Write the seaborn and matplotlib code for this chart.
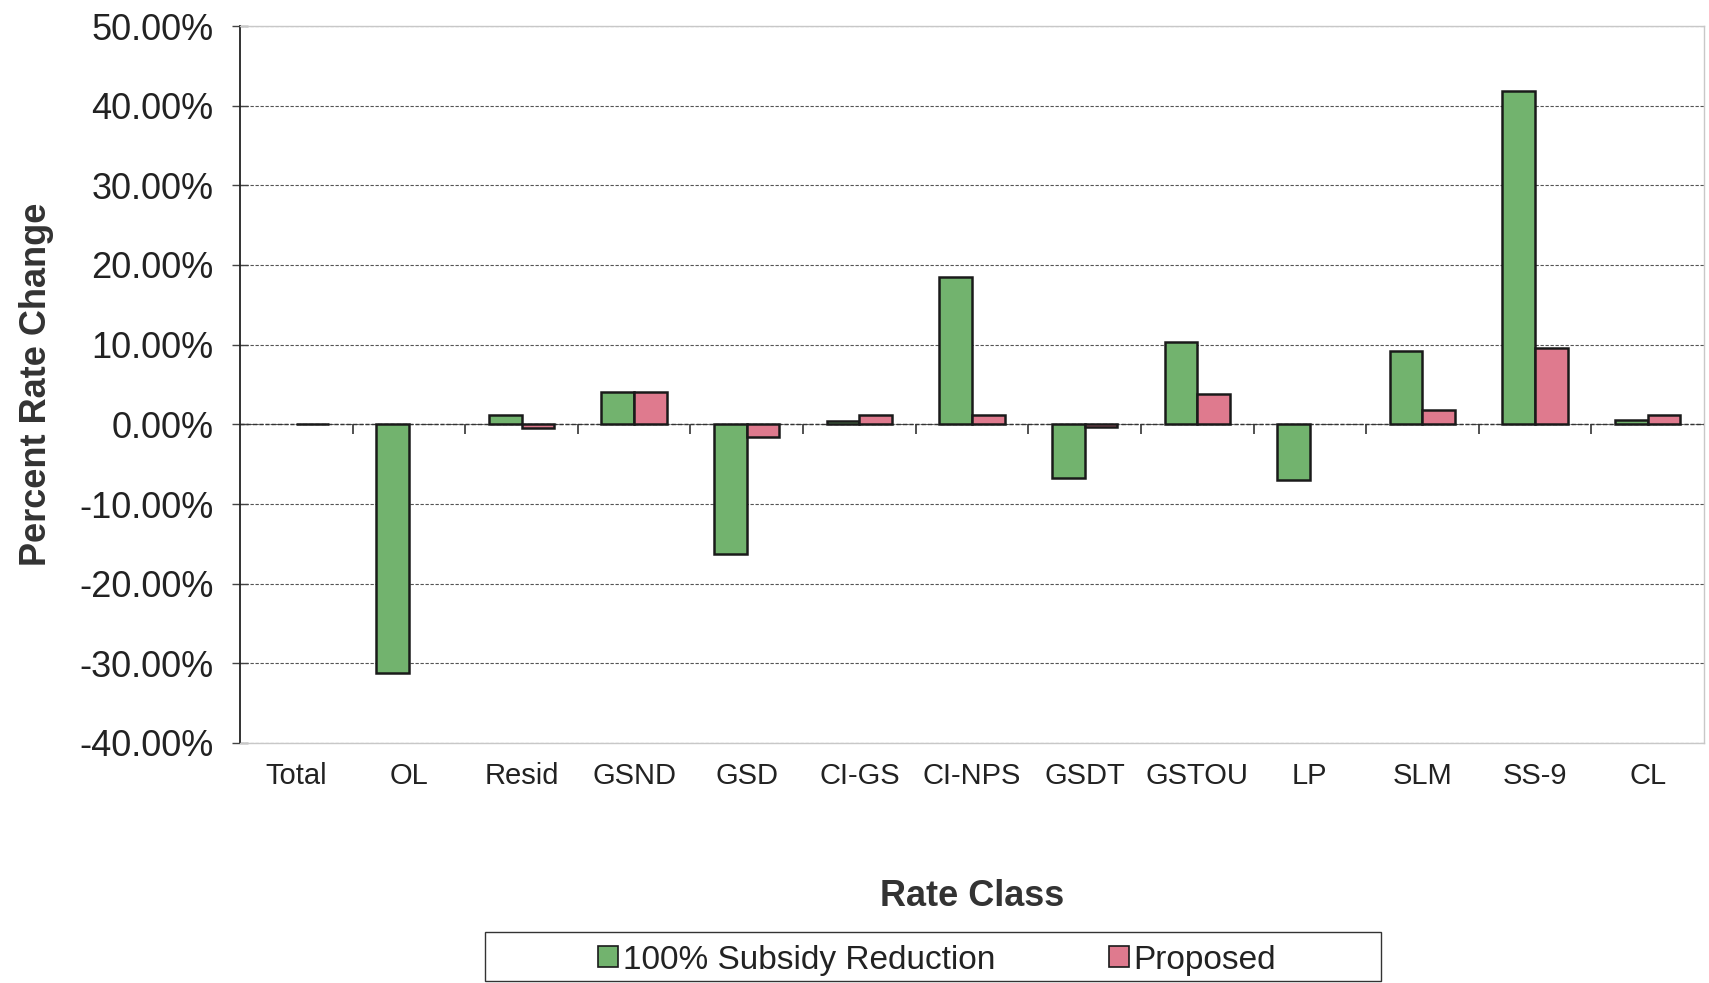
import matplotlib
matplotlib.use("Agg")
import matplotlib.pyplot as plt
import seaborn as sns
import pandas as pd
import numpy as np
from matplotlib.ticker import FuncFormatter, FixedLocator
from matplotlib.patches import Rectangle

categories = ["Total", "OL", "Resid", "GSND", "GSD", "CI-GS", "CI-NPS",
              "GSDT", "GSTOU", "LP", "SLM", "SS-9", "CL"]
subsidy_reduction = [0.0, -31.2, 1.2, 4.1, -16.3, 0.4, 18.5,
                     -6.7, 10.3, -7.0, 9.2, 41.9, 0.6]
proposed = [0.1, 0.0, -0.5, 4.0, -1.6, 1.2, 1.2,
            -0.3, 3.8, 0.0, 1.8, 9.6, 1.2]
series_names = ["100% Subsidy Reduction", "Proposed"]
y_ticks = [50, 40, 30, 20, 10, 0, -10, -20, -30, -40]

df = pd.DataFrame({
    "Rate Class": categories * 2,
    "Change": subsidy_reduction + proposed,
    "Series": [series_names[0]] * len(categories) + [series_names[1]] * len(categories),
})

sns.set_theme(style="white")
plt.rcParams["font.family"] = ["Liberation Sans", "DejaVu Sans"]

W, H = 1709, 983
fig = plt.figure(figsize=(W / 100, H / 100), dpi=100)
ax = fig.add_axes([240 / W, 1 - 743 / H, (1704 - 240) / W, (743 - 26) / H])

palette = {series_names[0]: "#72b36e", series_names[1]: "#df7a8e"}
sns.barplot(data=df, x="Rate Class", y="Change", hue="Series", order=categories,
            hue_order=series_names, palette=palette, width=0.58, dodge=True,
            edgecolor="#1a1a1a", linewidth=1.8, saturation=1, ax=ax, zorder=3)

# bars with no change are not drawn at all
for patch in ax.patches:
    if abs(patch.get_height()) < 1e-9:
        patch.set_linewidth(0)

ax.set_xlim(-0.5, len(categories) - 0.5)
ax.set_ylim(-40, 50)
ax.yaxis.set_major_locator(FixedLocator(y_ticks))
ax.yaxis.set_major_formatter(FuncFormatter(lambda v, p: f"{v:.2f}%"))
ax.grid(axis="y", color="#555555", linestyle=(0, (3, 1.5)), linewidth=0.8, zorder=0)
ax.grid(axis="x", visible=False)

# zero line with category-separator ticks
ax.axhline(0, color="#333333", linestyle=(0, (3, 1.5)), linewidth=1.0, zorder=2)
zero_axis = ax.secondary_xaxis(40 / 90)
zero_axis.set_xticks(np.arange(0.5, len(categories) - 0.5, 1.0))
zero_axis.set_xticklabels([])
zero_axis.tick_params(direction="out", length=7, width=1.2, color="#333333")
zero_axis.spines["bottom"].set_visible(False)

for side in ["top", "right", "bottom"]:
    ax.spines[side].set_color("#c8c8c8")
    ax.spines[side].set_linewidth(1.0)
ax.spines["left"].set_color("#222222")
ax.spines["left"].set_linewidth(1.3)

ax.tick_params(axis="y", direction="inout", length=12, width=1.0, color="#444444",
               labelsize=26, pad=13, left=True, labelcolor="#222222")
ax.tick_params(axis="x", length=0, labelsize=21, pad=14, labelcolor="#222222")

ax.set_xlabel("Rate Class", fontsize=26, fontweight="bold", labelpad=64, color="#333333")
ax.set_ylabel("Percent Rate Change", fontsize=26, fontweight="bold", labelpad=18, color="#333333")

ax.legend_.remove()
handles = [Rectangle((0, 0), 1, 1, facecolor=palette[s], edgecolor="#1a1a1a", linewidth=1.2)
           for s in series_names]
leg = fig.legend(handles, series_names, loc="center",
                 bbox_to_anchor=(937 / W, 1 - 960 / H), ncol=2, fontsize=24,
                 frameon=False, handlelength=0.6, handleheight=0.6, handletextpad=0.15,
                 columnspacing=3.4, borderaxespad=0)
for t in leg.get_texts():
    t.set_color("#222222")

# legend box
fig.patches.append(Rectangle((485 / W, 1 - 981 / H), (1381 - 485) / W, (981 - 932) / H,
                             transform=fig.transFigure, fill=False,
                             edgecolor="#333333", linewidth=1.0))

fig.savefig("out.png", dpi=100)
